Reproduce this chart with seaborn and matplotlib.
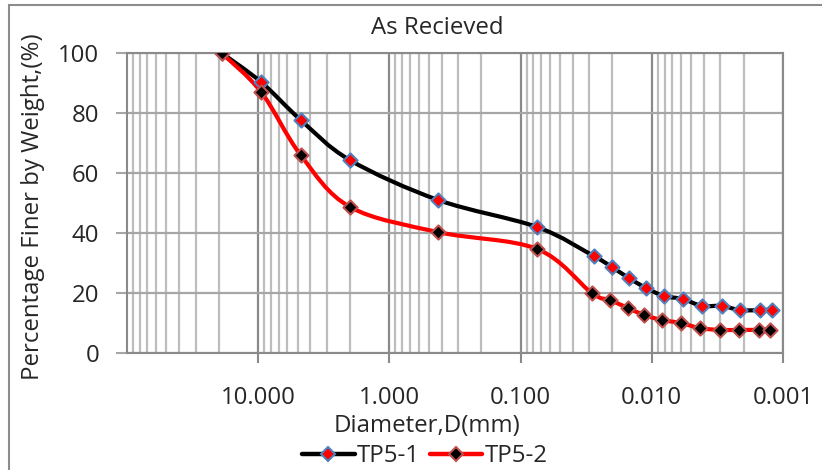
# Grain size distribution - As Recieved (TP5-1 / TP5-2)
import numpy as np
import pandas as pd
import matplotlib
matplotlib.use("Agg")
import matplotlib.pyplot as plt
from matplotlib.path import Path
from matplotlib.patches import PathPatch, Rectangle
from matplotlib.lines import Line2D
from matplotlib.ticker import FixedLocator, FixedFormatter
import seaborn as sns

# data
d_tp51 = [19.0, 9.5, 4.75, 2.0, 0.425, 0.075, 0.0277, 0.0202, 0.0150, 0.0111,
          0.0081, 0.0058, 0.00415, 0.00292, 0.00213, 0.00150, 0.00121]
p_tp51 = [100, 90.3, 77.7, 64.3, 51.0, 42.0, 32.3, 28.7, 25.0, 21.7,
          19.0, 18.0, 15.7, 15.7, 14.3, 14.3, 14.5]
d_tp52 = [19.0, 9.5, 4.75, 2.0, 0.425, 0.075, 0.0287, 0.0210, 0.0152, 0.0115,
          0.0084, 0.0060, 0.0043, 0.00303, 0.00217, 0.00152, 0.00126]
p_tp52 = [100, 87.0, 66.0, 48.7, 40.3, 34.7, 20.0, 17.7, 15.0, 12.7,
          11.0, 10.0, 8.3, 7.7, 7.7, 7.7, 7.7]
x_ticks = [10, 1, 0.1, 0.01, 0.001]
x_labels = ["10.000", "1.000", "0.100", "0.010", "0.001"]
y_ticks = [0, 20, 40, 60, 80, 100]

df = pd.concat([
    pd.DataFrame({"D": d_tp51, "P": p_tp51, "Sample": "TP5-1"}),
    pd.DataFrame({"D": d_tp52, "P": p_tp52, "Sample": "TP5-2"}),
])

sns.set_style("white")
plt.rcParams["font.family"] = ["Open Sans", "DejaVu Sans"]
FS = 17.3


def smooth_path(xs, ys):
    # Excel-like smoothed line: cubic bezier in (log x, y) space
    u = np.log10(np.asarray(xs, float))
    v = np.asarray(ys, float)
    pts = np.column_stack([u, v])
    n = len(pts)
    verts = [pts[0]]
    codes = [Path.MOVETO]
    for i in range(n - 1):
        p0 = pts[max(i - 1, 0)]
        p1 = pts[i]
        p2 = pts[i + 1]
        p3 = pts[min(i + 2, n - 1)]
        c1 = p1 + (p2 - p0) / 6.0
        c2 = p2 - (p3 - p1) / 6.0
        verts += [c1, c2, p2]
        codes += [Path.CURVE4] * 3
    verts = np.array(verts)
    verts[:, 0] = 10 ** verts[:, 0]
    return Path(verts, codes)


fig = plt.figure(figsize=(8.22, 4.70), dpi=100)
ax = fig.add_axes([127 / 822, 1 - 353 / 470, 656 / 822, 300 / 470])

ax.set_xscale("log")
ax.set_xlim(100, 0.001)
ax.set_ylim(0, 100)

# grid
minor = [m * 10.0 ** e for e in range(-3, 2) for m in range(2, 10)]
for xv in minor:
    ax.axvline(xv, color="#bdbdbd", lw=1.6, zorder=1)
for xv in x_ticks:
    ax.axvline(xv, color="#8a8a8a", lw=1.6, zorder=1.1)
for yv in y_ticks:
    ax.axhline(yv, color="#a6a6a6", lw=1.6, zorder=1.1)

styles = {
    "TP5-1": dict(line="black", face="red", edge="#4f81bd"),
    "TP5-2": dict(line="red", face="black", edge="#c0504d"),
}
for name, xs, ys in [("TP5-1", d_tp51, p_tp51), ("TP5-2", d_tp52, p_tp52)]:
    st = styles[name]
    ax.add_patch(PathPatch(smooth_path(xs, ys), fill=False, edgecolor=st["line"],
                           lw=3.0, zorder=3, capstyle="round", joinstyle="round"))
    sns.scatterplot(data=df[df["Sample"] == name], x="D", y="P", ax=ax,
                    marker="D", s=52, color=st["face"], edgecolor=st["edge"],
                    linewidth=1.5, zorder=4, legend=False)

ax.xaxis.set_major_locator(FixedLocator(x_ticks))
ax.xaxis.set_major_formatter(FixedFormatter(x_labels))
ax.xaxis.set_minor_locator(FixedLocator([]))
ax.set_yticks(y_ticks)
ax.tick_params(axis="x", which="major", direction="out", length=7, width=1.5,
               color="#8a8a8a", labelsize=FS, pad=16.5, bottom=True)
ax.tick_params(axis="y", which="major", direction="out", length=8, width=1.5,
               color="#a6a6a6", labelsize=FS, pad=12, left=True)
for s in ax.spines.values():
    s.set_color("#8a8a8a")
    s.set_linewidth(1.5)

ax.set_xlabel("Diameter,D(mm)", fontsize=FS, va="center")
ax.xaxis.set_label_coords(0.457, -0.243)
ax.set_ylabel("Percentage Finer by Weight,(%)", fontsize=FS, va="center")
ax.yaxis.set_label_coords(-0.143, 0.487)
ax.set_title("As Recieved", fontsize=FS, x=0.4726, y=1.085, va="center", pad=0)

handles = [
    Line2D([], [], color="black", lw=3.2, marker="D", markersize=7,
           markerfacecolor="red", markeredgecolor="#4f81bd", markeredgewidth=1.5),
    Line2D([], [], color="red", lw=3.2, marker="D", markersize=7,
           markerfacecolor="black", markeredgecolor="#c0504d", markeredgewidth=1.5),
]
ax.legend(handles, ["TP5-1", "TP5-2"], loc="center", bbox_to_anchor=(0.454, -0.345),
          ncol=2, frameon=False, fontsize=FS, handlelength=2.2,
          handletextpad=0.1, columnspacing=0.4)

# chart area border
fig.add_artist(Rectangle((9 / 822, -0.02), 1.05, 1 - 5 / 470 + 0.02,
                         transform=fig.transFigure, fill=False,
                         edgecolor="#8c8c8c", lw=1.5))

fig.savefig("out.png", dpi=100)
